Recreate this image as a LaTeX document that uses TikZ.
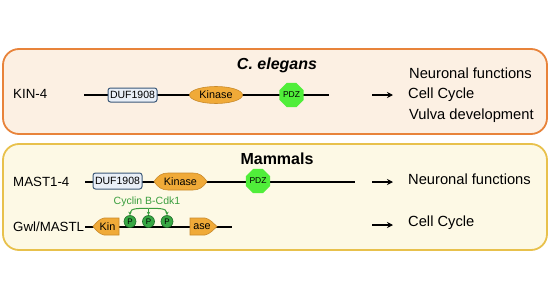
\documentclass[tikz,border=0pt]{standalone}
\usepackage{fontspec}
\setmainfont{Liberation Sans}
\usetikzlibrary{shapes.geometric,arrows.meta}
\definecolor{topfill}{HTML}{FCF0E3}
\definecolor{topline}{HTML}{E8833A}
\definecolor{botfill}{HTML}{FDF9E5}
\definecolor{botline}{HTML}{E8C14C}
\definecolor{kinfill}{HTML}{F0AA38}
\definecolor{kinline}{HTML}{C98A2A}
\definecolor{duffill}{HTML}{E9EFF7}
\definecolor{dufline}{HTML}{3B5878}
\definecolor{pdzfill}{HTML}{50EE3A}
\definecolor{pfill}{HTML}{38A844}
\definecolor{pline}{HTML}{1E6E28}
\definecolor{cycgreen}{HTML}{3A9E3E}
\begin{document}
\begin{tikzpicture}[x=1pt,y=-1pt,
  topbox/.style={draw=topline,fill=topfill,line width=1.8pt,rounded corners=16pt},
  botbox/.style={draw=botline,fill=botfill,line width=1.8pt,rounded corners=16pt},
  title/.style={font=\fontsize{16}{19}\selectfont\bfseries,inner sep=0pt},
  lab/.style={font=\fontsize{13.3}{16}\selectfont,anchor=west,inner sep=0pt},
  fn/.style={font=\fontsize{14.7}{17}\selectfont,anchor=west,inner sep=0pt},
  backbone/.style={line width=1.5pt,black},
  duf/.style={draw=dufline,fill=duffill,line width=1pt,rounded corners=2.5pt,minimum width=49pt,inner sep=0pt,font=\fontsize{10.5}{12}\selectfont},
  kinell/.style={ellipse,draw=kinline,fill=kinfill,line width=0.6pt,minimum width=53pt,minimum height=17pt,inner sep=0pt,font=\fontsize{10.8}{12}\selectfont},
  kinshape/.style={draw=kinline,fill=kinfill,line width=0.6pt},
  kintext/.style={inner sep=0pt,font=\fontsize{10.8}{12}\selectfont},
  pdz/.style={regular polygon,regular polygon sides=8,draw=none,fill=pdzfill,minimum size=21.5pt,inner sep=0pt,font=\fontsize{8.5}{10}\selectfont},
  pcirc/.style={circle,draw=pline,fill=pfill,line width=0.6pt,minimum size=12pt,inner sep=0pt,font=\fontsize{8}{9}\selectfont},
  outarrow/.style={line width=1.6pt,-{Stealth[length=6pt,width=6pt]}},
  garrow/.style={draw=cycgreen,line width=1pt,-{Stealth[length=3.5pt,width=3.5pt]}}
]
\useasboundingbox (0,0) rectangle (550,300);
\fill[white] (0,0) rectangle (550,300);

% boxes
\draw[topbox] (3,49) rectangle (547,134);
\draw[botbox] (3,144) rectangle (547,250);

% ---------- C. elegans ----------
\node[title] (ce) at (277,65) {\itshape C. elegans};
\node[lab] (kin4) at (13,94) {KIN-4};
\coordinate (l1s) at (84,95);
\coordinate (l1e) at (329,95);
\draw[backbone] (l1s) -- (l1e);
\node[duf,minimum height=14pt] (duf1) at (132.5,95) {DUF1908};
\node[kinell] (k1) at (216,95) {Kinase};
\node[pdz] (pdz1) at (291.5,95) {PDZ};
\coordinate (a1s) at (372,95);
\coordinate (a1e) at (393,95);
\draw[outarrow] (a1s) -- (a1e);
\node[fn] (f1a) at (409,73) {Neuronal functions};
\node[fn] (f1b) at (408,94.5) {Cell Cycle};
\node[fn] (f1c) at (409,115.5) {Vulva development};

% ---------- Mammals ----------
\node[title] (mm) at (277,159) {Mammals};
\node[lab] (mast) at (13,182) {MAST1-4};
\coordinate (l2s) at (85,182);
\coordinate (l2e) at (355,182);
\draw[backbone] (l2s) -- (l2e);
\node[duf,minimum height=16pt] (duf2) at (117.5,181) {DUF1908};
\draw[kinshape] (154,181.5) .. controls (158,175.5) and (162,173) .. (168,173) -- (193,173)
  .. controls (199,173) and (203,175.5) .. (207,181.5)
  .. controls (203,187.5) and (199,190) .. (193,190) -- (168,190)
  .. controls (162,190) and (158,187.5) .. (154,181.5) -- cycle;
\node[kintext] (k2) at (180.5,181.5) {Kinase};
\node[pdz] (pdz2) at (258,181) {PDZ};
\coordinate (a2s) at (372,182);
\coordinate (a2e) at (393,182);
\draw[outarrow] (a2s) -- (a2e);
\node[fn] (f2a) at (408,179.5) {Neuronal functions};

% ---------- Gwl/MASTL ----------
\node[lab] (gwl) at (13,227) {Gwl/MASTL};
\coordinate (l3s) at (85,227);
\coordinate (l3e) at (232,227);
\draw[backbone] (l3s) -- (l3e);
\draw[kinshape] (119,218) -- (104,218) .. controls (99,219) and (96,223) .. (93,226.5)
  .. controls (96,230) and (99,234) .. (104,235) -- (119,235) -- cycle;
\node[kintext] (kin) at (107.5,226.5) {Kin};
\draw[kinshape] (190,218) -- (205,218) .. controls (210,219) and (213,223) .. (217,226.5)
  .. controls (213,230) and (210,234) .. (205,235) -- (190,235) -- cycle;
\node[kintext] (ase) at (202,226.5) {ase};
\node[pcirc] (p1) at (130,221.5) {P};
\node[pcirc] (p2) at (148.5,221.5) {P};
\node[pcirc] (p3) at (167,221.5) {P};
\node[font=\fontsize{10.5}{12}\selectfont,text=cycgreen,inner sep=0pt] (cyc) at (147,202) {Cyclin B-Cdk1};
\coordinate (cj) at (148.5,208.5);
\draw[garrow] (cj) to[out=180,in=90] (p1.north);
\draw[garrow] (cj) to[out=0,in=90] (p3.north);
\draw[garrow] (cj) -- (p2.north);
\coordinate (a3s) at (372,225);
\coordinate (a3e) at (393,225);
\draw[outarrow] (a3s) -- (a3e);
\node[fn] (f3a) at (408,222.5) {Cell Cycle};
\end{tikzpicture}
\end{document}
